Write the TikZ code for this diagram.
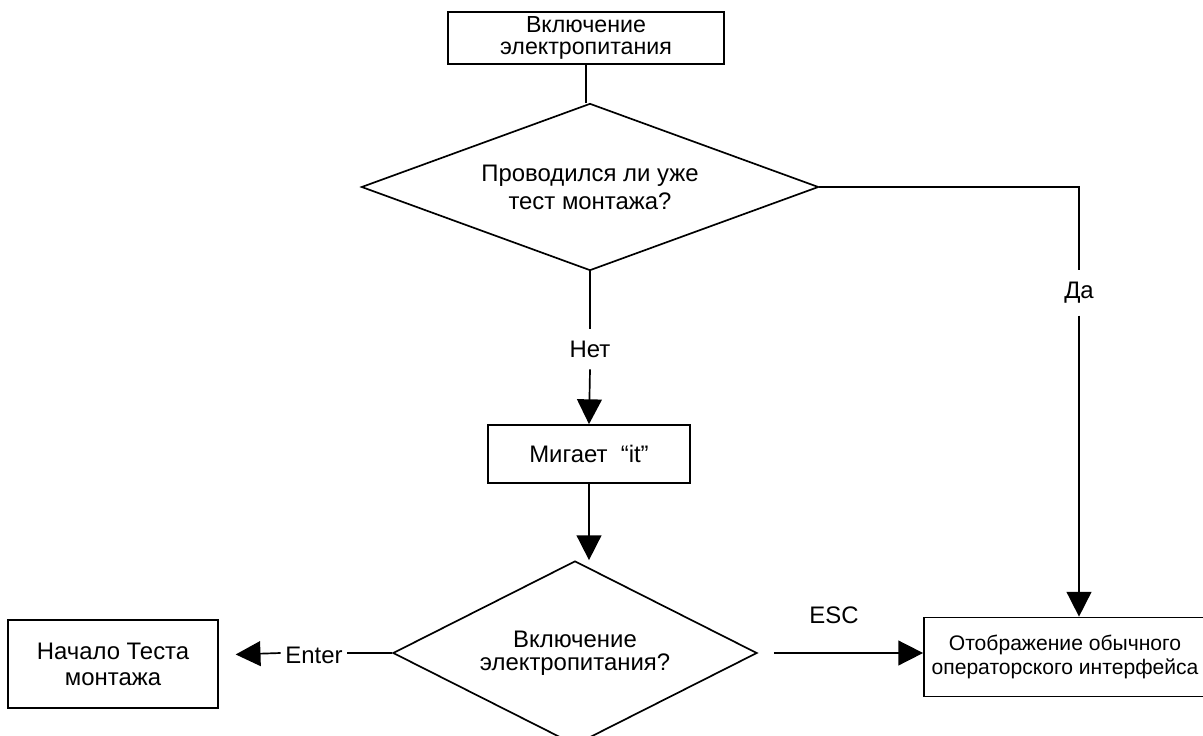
\documentclass[tikz,border=0pt]{standalone}
\usepackage{fontspec}
\setmainfont{Liberation Sans}
\usepackage{tikz}
\usetikzlibrary{arrows.meta, positioning, shapes.geometric}

\begin{document}
\begin{tikzpicture}[x=0.025cm, y=-0.025cm, line width=1.2pt,
  >={Triangle[length=6.2mm, width=6.2mm]},
  every node/.style={font=\fontsize{17}{18}\selectfont, align=center},
  lead/.style={font=\fontsize{17}{#1}\selectfont},
  procbox/.style={draw, rectangle, inner sep=0pt},
  decision/.style={draw, diamond, inner sep=0pt},
  gaplabel/.style={inner sep=8pt}]
  \useasboundingbox (0,0) rectangle (1203,736);
  % Boxes and decisions
  \node[procbox, font=\fontsize{16.5}{15.5}\selectfont, minimum width=6.9cm, minimum height=1.3cm] (power) at (586,38) {Включение\\электропитания};
  \node[decision, lead=19.9, aspect=2.74, minimum width=11.425cm, minimum height=4.175cm] (tested) at (590,187) {Проводился ли уже\\тест монтажа?};
  \node[procbox, minimum width=5.05cm, minimum height=1.45cm] (blink) at (589,454) {Мигает\ \ “it”};
  \node[decision, lead=16.2, aspect=2, minimum width=9.1cm, minimum height=4.6cm] (powerq) at (575,653) {Включение\\электропитания?};
  \node[procbox, lead=18.5, minimum width=5.25cm, minimum height=2.2cm] (start) at (113,664) {Начало Теста\\монтажа};
  \node[procbox, font=\fontsize{15}{17}\selectfont, minimum width=7.05cm, minimum height=1.975cm] (show) at (1065,657) {Отображение обычного\\операторского интерфейса};
  % Labels in the connectors
  \node[gaplabel] (no) at (590,349) {Нет};
  \node[gaplabel] (yes) at (1079,293) {Да};
  \node[inner xsep=2.8pt] (enter) at (314,655) {Enter};
  \node (esc) at (834,615) {ESC};
  % Connectors
  \draw (power.south) -- (power.south |- tested.north);
  \draw (tested.south) -- (no.north);
  \draw[->] (no.south) -- (blink.north);
  \draw (tested.east) -| (yes.north);
  \draw[->] (yes.south) -- (yes.south |- show.north);
  \draw[->] (blink.south) -- (blink.south |- powerq.north);
  \draw (powerq.west) -- (enter.east |- powerq.west);
  \draw[->, shorten >=0.42cm] (enter.west |- powerq.west) -- (enter.west -| start.east);
  \draw[->, shorten <=0.4cm] (powerq.east) -- (powerq.east -| show.west);
\end{tikzpicture}
\end{document}
